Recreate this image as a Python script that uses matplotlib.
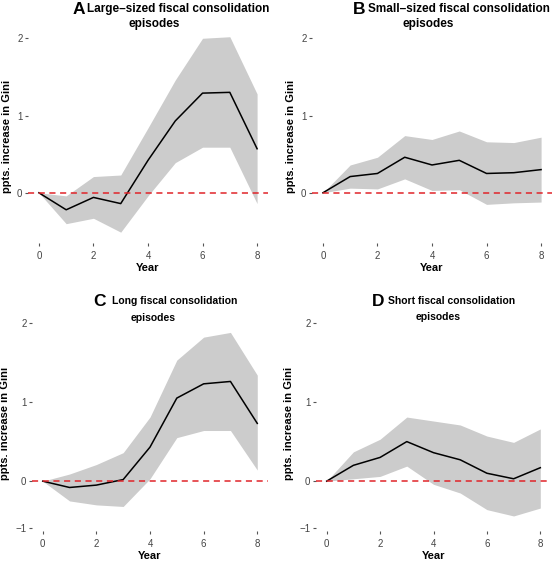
import matplotlib
matplotlib.use("Agg")
import matplotlib.pyplot as plt
import numpy as np

plt.rcParams['font.family'] = ['Liberation Sans', 'DejaVu Sans']

years = [0, 1, 2, 3, 4, 5, 6, 7, 8]

# Panel A: Large-sized
a_mid = [0, -0.22, -0.06, -0.14, 0.42, 0.93, 1.29, 1.30, 0.57]
a_up = [0, -0.04, 0.21, 0.23, 0.84, 1.46, 2.00, 2.02, 1.28]
a_lo = [0, -0.40, -0.33, -0.51, -0.04, 0.39, 0.59, 0.59, -0.14]

# Panel B: Small-sized
b_mid = [0, 0.21, 0.25, 0.46, 0.36, 0.42, 0.25, 0.26, 0.30]
b_up = [0, 0.36, 0.46, 0.74, 0.69, 0.80, 0.66, 0.65, 0.72]
b_lo = [0, 0.06, 0.05, 0.18, 0.03, 0.04, -0.15, -0.13, -0.12]

# Panel C: Long
c_mid = [0, -0.08, -0.05, 0.02, 0.43, 1.05, 1.23, 1.26, 0.73]
c_up = [0, 0.09, 0.21, 0.36, 0.81, 1.53, 1.82, 1.88, 1.34]
c_lo = [0, -0.25, -0.30, -0.32, 0.03, 0.55, 0.64, 0.64, 0.14]

# Panel D: Short
d_mid = [0, 0.20, 0.30, 0.50, 0.36, 0.27, 0.10, 0.03, 0.17]
d_up = [0, 0.37, 0.53, 0.81, 0.76, 0.71, 0.57, 0.49, 0.66]
d_lo = [0, 0.03, 0.06, 0.19, -0.04, -0.15, -0.36, -0.44, -0.34]

letters = ["A", "B", "C", "D"]
titles = ["Large\u2013sized fiscal consolidation", "Small\u2013sized fiscal consolidation",
          "Long fiscal consolidation", "Short fiscal consolidation"]
title2 = "episodes"
ylabel = "ppts. increase in Gini"
xlabel = "Year"
xticks = [0, 2, 4, 6, 8]
top_yticks = [0, 1, 2]
top_yticklabels = ["0", "1", "2"]
bot_yticks = [-0.59, 0, 1, 2]
bot_yticklabels = ["\u22121", "0", "1", "2"]

W, H = 553, 561
fig = plt.figure(figsize=(W / 100, H / 100), dpi=100)

def px_axes(l, r, t, b):
    return fig.add_axes([l / W, (H - b) / H, (r - l) / W, (b - t) / H])

panels = [
    (px_axes(28, 268, 29, 243), a_mid, a_up, a_lo, (-0.65, 2.12), top_yticks, top_yticklabels),
    (px_axes(312, 552, 29, 243), b_mid, b_up, b_lo, (-0.65, 2.12), top_yticks, top_yticklabels),
    (px_axes(32, 268, 315, 531), c_mid, c_up, c_lo, (-0.63, 2.1), bot_yticks, bot_yticklabels),
    (px_axes(316, 551, 315, 531), d_mid, d_up, d_lo, (-0.63, 2.1), bot_yticks, bot_yticklabels),
]

for ax, mid, up, lo, ylim, yt, ytl in panels:
    ax.fill_between(years, lo, up, color="#CCCCCC", linewidth=0)
    ax.plot(years, mid, color="black", linewidth=1.1)
    ax.axhline(0, color="#E0242A", linestyle=(0, (4, 3)), linewidth=1.1)
    ax.set_xlim(-0.4, 8.4)
    ax.set_ylim(*ylim)
    ax.set_xticks(xticks)
    ax.set_yticks(yt)
    ax.set_yticklabels(ytl)
    for s in ax.spines.values():
        s.set_visible(False)
    ax.tick_params(axis="both", colors="#555555", labelcolor="#444444", labelsize=7, length=2.5, width=0.8)
    ax.tick_params(axis="x", pad=3)
    ax.tick_params(axis="y", pad=1.5)
    ax.set_xlabel(xlabel, fontsize=8, fontweight="bold", labelpad=2)
    ax.set_ylabel(ylabel, fontsize=8, fontweight="bold", labelpad=4)

# Titles
tspec = [
    (73, 87, 9, 154, 24, 8.5, 12.5),
    (353, 368, 9, 428, 24, 8.5, 12.5),
    (93, 112, 301, 153, 318, 7.5, 12.5),
    (372, 388, 301, 438, 317, 7.5, 12.5),
]
for (lx, tx, ty, ex, ey, fs, lfs), let, tt in zip(tspec, letters, titles):
    fig.text(lx / W, 1 - ty / H, let, fontsize=lfs, fontweight="bold", ha="left", va="center")
    fig.text(tx / W, 1 - ty / H, tt, fontsize=fs, fontweight="bold", ha="left", va="center")
    fig.text(ex / W, 1 - ey / H, title2, fontsize=fs, fontweight="bold", ha="center", va="center")

fig.savefig("out.png", dpi=100)
